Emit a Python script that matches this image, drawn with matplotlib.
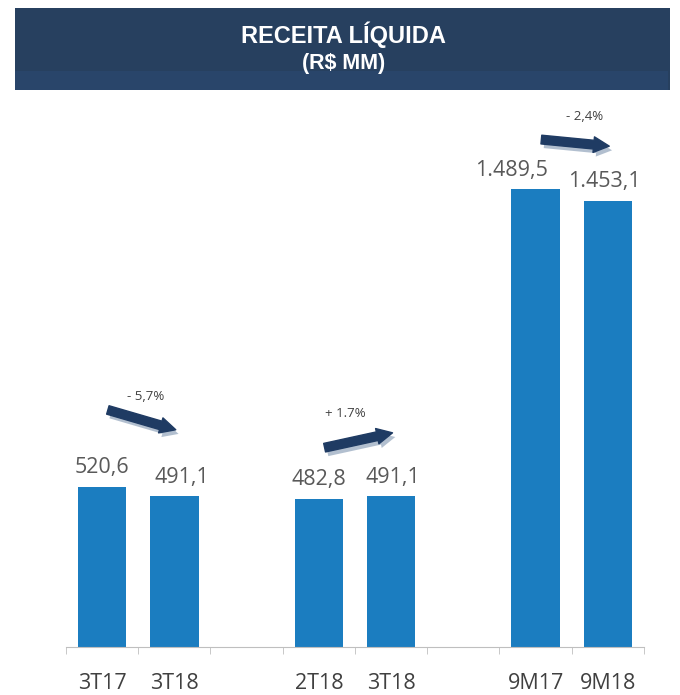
import matplotlib.pyplot as plt
import matplotlib.patheffects as pe
from matplotlib.patches import Rectangle
import numpy as np

# data
categories = ['3T17', '3T18', '2T18', '3T18', '9M17', '9M18']
values = [520.6, 491.1, 482.8, 491.1, 1489.5, 1453.1]
value_labels = ['520,6', '491,1', '482,8', '491,1', '1.489,5', '1.453,1']
changes = ['- 5,7%', '+ 1.7%', '- 2,4%']

positions = [0, 1, 3, 4, 6, 7]
label_dx = [0, 0.1, 0, 0.03, -0.33, -0.05]  # small nudges to match the original labels

bar_color = '#1B7DC0'
navy = '#27405F'

fig = plt.figure(figsize=(6.8, 6.95), dpi=100)

# header banner
fig.patches.append(Rectangle((0.022, 0.870), 0.963, 0.118, transform=fig.transFigure,
                             facecolor=navy, edgecolor='none'))
fig.patches.append(Rectangle((0.022, 0.870), 0.960, 0.028, transform=fig.transFigure,
                             facecolor='#29456A', edgecolor='none'))
fig.text(0.505, 0.950, 'RECEITA LÍQUIDA', color='white', fontsize=17, fontweight='bold',
         ha='center', va='center', family='Liberation Sans')
fig.text(0.505, 0.909, '(R$ MM)', color='white', fontsize=15.5, fontweight='bold',
         ha='center', va='center', family='Liberation Sans')

ax = fig.add_axes([0.097, 0.069, 0.850, 0.787])
ax.bar(positions, values, width=0.67, color=bar_color)
ax.set_xlim(-0.5, 7.5)
ax.set_ylim(0, 1780)

for x, dx, v, lab in zip(positions, label_dx, values, value_labels):
    ax.text(x + dx, v + 28, lab, ha='center', va='bottom', fontsize=15.5, color='#595959',
            family='Open Sans')

# axes styling
for s in ['top', 'right', 'left']:
    ax.spines[s].set_visible(False)
ax.spines['bottom'].set_color('#BFBFBF')
ax.set_yticks([])
ax.set_xticks(positions)
ax.set_xticklabels(categories, fontsize=15.5, color='#404040', family='Open Sans')
ax.set_xticks(np.arange(-0.5, 8.0, 1.0), minor=True)
ax.tick_params(axis='x', which='major', length=0, pad=19)
ax.tick_params(axis='x', which='minor', length=5, color='#BFBFBF')

# change arrows (start index, end index, offsets above bars)
pairs = [(0, 1, 251, 216), (2, 3, 166, 206), (4, 5, 162, 177)]
label_pos = [(0.6, 815), (3.37, 759), (6.68, 1727)]
for (i, j, oa, ob), txt, (lx, ly) in zip(pairs, changes, label_pos):
    xa = positions[i] + 0.08
    xb = positions[j] + 0.02
    ya = values[i] + oa
    yb = values[j] + ob
    ax.annotate('', xy=(xb, yb), xytext=(xa, ya), annotation_clip=False,
                arrowprops=dict(arrowstyle='simple,head_length=0.75,head_width=0.75,tail_width=0.42',
                                mutation_scale=15, color='#1F3B63', shrinkA=0, shrinkB=0,
                                path_effects=[pe.SimplePatchShadow(offset=(2, -3),
                                                                   shadow_rgbFace='#9FB0C4',
                                                                   alpha=0.8),
                                              pe.Normal()]))
    ax.text(lx, ly, txt, ha='center', va='center', fontsize=9.5, color='#404040',
            family='Open Sans')

fig.savefig('out.png', dpi=100)
